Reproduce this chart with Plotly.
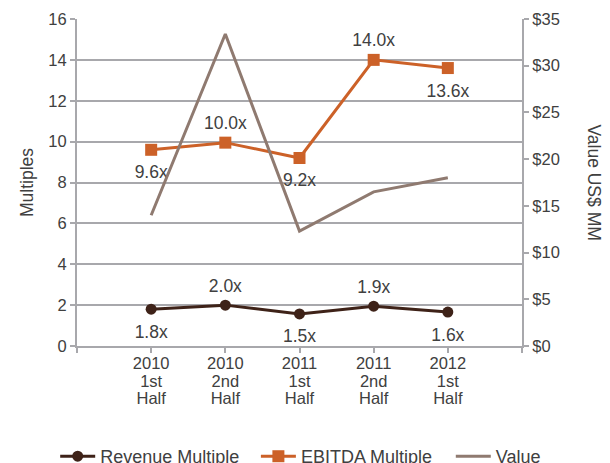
import plotly.graph_objects as go

categories = ["2010<br>1st<br>Half", "2010<br>2nd<br>Half", "2011<br>1st<br>Half", "2011<br>2nd<br>Half", "2012<br>1st<br>Half"]
revenue_multiple = [1.8, 2.0, 1.57, 1.95, 1.66]
revenue_labels = ["1.8x", "2.0x", "1.5x", "1.9x", "1.6x"]
revenue_pos = ["bottom center", "top center", "bottom center", "top center", "bottom center"]
ebitda_multiple = [9.6, 9.95, 9.2, 14.0, 13.6]
ebitda_labels = ["9.6x", "10.0x", "9.2x", "14.0x", "13.6x"]
ebitda_pos = ["bottom center", "top center", "bottom center", "top center", "bottom center"]
value_mm = [14.0, 33.4, 12.3, 16.5, 18.0]

xpos = list(range(len(categories)))
FONT = "Liberation Sans, Arial, sans-serif"
TXT = "#404040"
GRID = "#a8a8ac"
REV_C = "#3e2218"
EB_C = "#cc6128"
VAL_C = "#8f7a70"

# tighter line spacing for the multi-line category labels
tick_text = ["<br>".join("<span style='font-size:16.5px'>%s</span>" % part for part in c.split("<br>"))
             for c in categories]

fig = go.Figure()
fig.add_trace(go.Scatter(
    x=xpos, y=revenue_multiple, name="Revenue Multiple", mode="lines+markers", legend="legend",
    line=dict(color=REV_C, width=3), marker=dict(symbol="circle", size=11, color=REV_C),
))
fig.add_trace(go.Scatter(
    x=xpos, y=ebitda_multiple, name="EBITDA Multiple", mode="lines+markers", legend="legend2",
    line=dict(color=EB_C, width=3), marker=dict(symbol="square", size=12, color=EB_C),
))
fig.add_trace(go.Scatter(
    x=xpos, y=value_mm, name="Value", mode="lines", yaxis="y2", legend="legend3",
    line=dict(color=VAL_C, width=3),
))
# data labels (invisible markers set the label offset from the point)
for vals, labels, pos in [(revenue_multiple, revenue_labels, revenue_pos),
                          (ebitda_multiple, ebitda_labels, ebitda_pos)]:
    gaps = [13 if p.startswith("top") else 23 for p in pos]
    fig.add_trace(go.Scatter(
        x=xpos, y=vals, mode="markers+text", showlegend=False, hoverinfo="skip",
        marker=dict(size=gaps, opacity=0, color="white"),
        text=labels, textposition=pos, textfont=dict(size=17.5, color=TXT, family=FONT),
    ))

leg_common = dict(orientation="h", xanchor="left", y=-0.338, yanchor="middle",
                  font=dict(size=18, color=TXT, family=FONT), itemwidth=35,
                  bgcolor="rgba(0,0,0,0)")

fig.update_layout(
    width=602, height=455,
    margin=dict(l=69, r=88, t=11, b=117, autoexpand=False),
    paper_bgcolor="white", plot_bgcolor="white",
    font=dict(family=FONT, size=16.5, color=TXT),
    showlegend=True,
    legend=dict(x=-0.049, **leg_common),
    legend2=dict(x=0.402, **leg_common),
    legend3=dict(x=0.840, **leg_common),
    xaxis=dict(range=[-1, 5], tickmode="array", tickvals=[-1, 0, 1, 2, 3, 4, 5],
               ticktext=[""] + tick_text + [""], showgrid=False, zeroline=False,
               showline=True, linecolor=GRID, linewidth=2, ticks="outside", ticklen=5,
               tickcolor=GRID, tickwidth=2, tickfont=dict(size=13.5, color=TXT)),
    yaxis=dict(range=[0, 16], dtick=2, showgrid=True, gridcolor=GRID, gridwidth=2,
               zeroline=False, showline=True, linecolor=GRID, linewidth=2,
               ticks="outside", ticklen=5, tickcolor=GRID, tickwidth=2,
               title=dict(text="Multiples", font=dict(size=17.5, color=TXT), standoff=10),
               tickfont=dict(size=16.5, color=TXT)),
    yaxis2=dict(range=[0, 35], dtick=5, tickprefix="$", overlaying="y", side="right",
                showgrid=False, zeroline=False, showline=True, linecolor=GRID, linewidth=2,
                ticks="outside", ticklen=5, tickcolor=GRID, tickwidth=2,
                tickfont=dict(size=16.5, color=TXT)),
    annotations=[dict(text="Value US$ MM", textangle=90, xref="paper", yref="paper",
                      x=1.162, y=0.5, xanchor="center", yanchor="middle", showarrow=False,
                      font=dict(size=17.5, color=TXT, family=FONT))],
)

fig.write_html("out.html")
